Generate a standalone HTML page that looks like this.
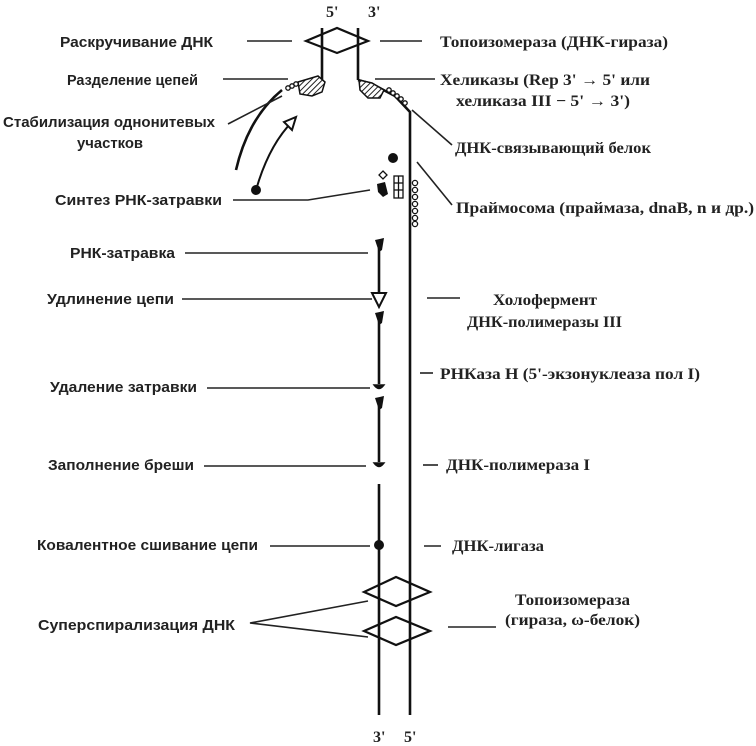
<!DOCTYPE html>
<html><head><meta charset="utf-8"><style>
html,body{margin:0;padding:0;background:#fff;}
svg{display:block;}
.s{font-family:"Liberation Sans",sans-serif;font-size:15px;font-weight:bold;fill:#222;}
.r{font-family:"Liberation Serif",serif;font-size:16px;font-weight:bold;fill:#222;}
</style></head><body>
<svg width="756" height="746" viewBox="0 0 756 746" xmlns="http://www.w3.org/2000/svg">
<defs>
<pattern id="h" width="4" height="4" patternUnits="userSpaceOnUse" patternTransform="rotate(45)">
<rect width="4" height="4" fill="#fff"/><line x1="0" y1="0" x2="0" y2="4" stroke="#222" stroke-width="2"/></pattern>
</defs>
<g stroke="#111" stroke-width="2.6" fill="none">
<line x1="322" y1="28" x2="322" y2="80"/>
<line x1="358" y1="28" x2="358" y2="80"/>
<polygon points="306,41 337,28 368,41 337,53" stroke-width="2.2"/>
<polyline points="358,80 372,84 395,96 410,112 410,715"/>
<path d="M282,90 Q248,118 236,170"/>
<path d="M256,190 Q268,148 290,124" stroke-width="2"/>
<line x1="379" y1="248" x2="379" y2="292"/>
<line x1="379" y1="315" x2="379" y2="384"/>
<line x1="379" y1="400" x2="379" y2="462"/>
<line x1="379" y1="484" x2="379" y2="715"/>
<polygon points="364,592 396,577 430,592 396,606" stroke-width="2.2"/>
<polygon points="364,631 396,617 430,631 396,645" stroke-width="2.2"/>
</g>
<polygon points="284,122 296,117 292,130" fill="#fff" stroke="#111" stroke-width="2"/>
<circle cx="256" cy="190" r="5" fill="#111"/>
<path d="M298,82 L318,76 L325,82 L322,92 L312,96 L300,94 Z" fill="url(#h)" stroke="#111" stroke-width="1.5"/>
<path d="M359,80 L372,83 L384,90 L380,98 L368,98 L360,90 Z" fill="url(#h)" stroke="#111" stroke-width="1.5"/>
<g fill="#fff" stroke="#111" stroke-width="1.3">
<circle cx="288" cy="88" r="2.2"/><circle cx="292" cy="86" r="2.2"/><circle cx="296" cy="84" r="2.2"/>
<circle cx="389" cy="90" r="2.2"/><circle cx="393" cy="93" r="2.2"/><circle cx="397" cy="96" r="2.2"/><circle cx="401" cy="99" r="2.2"/><circle cx="405" cy="103" r="2.2"/>
<circle cx="415" cy="183" r="2.6"/><circle cx="415" cy="190" r="2.6"/><circle cx="415" cy="197" r="2.6"/><circle cx="415" cy="204" r="2.6"/><circle cx="415" cy="211" r="2.6"/><circle cx="415" cy="218" r="2.6"/><circle cx="415" cy="224" r="2.6"/>
</g>
<circle cx="393" cy="158" r="5" fill="#111"/>
<polygon points="383,171 387,175 383,179 379,175" fill="#fff" stroke="#111" stroke-width="1.3"/>
<path d="M377,184 L385,182 L388,194 L383,197 L378,192 Z" fill="#111"/>
<g fill="#fff" stroke="#111" stroke-width="1.3">
<rect x="394" y="176" width="9" height="22"/>
<line x1="398.5" y1="176" x2="398.5" y2="198"/><line x1="394" y1="183" x2="403" y2="183"/><line x1="394" y1="190" x2="403" y2="190"/>
</g>
<path d="M375,240 L384,238 L382,250 L379,252 Z" fill="#111"/>
<polygon points="372,293 386,293 379,307" fill="#fff" stroke="#111" stroke-width="2"/>
<path d="M375,313 L384,311 L382,323 L379,325 Z" fill="#111"/>
<path d="M374,385 Q379,392 384,385 Z" fill="#111" stroke="#111" stroke-width="1.5"/>
<path d="M375,398 L384,396 L382,408 L379,410 Z" fill="#111"/>
<path d="M374,463 Q379,470 384,463 Z" fill="#111" stroke="#111" stroke-width="1.5"/>
<circle cx="379" cy="545" r="5" fill="#111"/>
<g stroke="#222" stroke-width="1.6" fill="none">
<line x1="247" y1="41" x2="292" y2="41"/>
<line x1="223" y1="79" x2="288" y2="79"/>
<line x1="228" y1="124" x2="282" y2="96"/>
<polyline points="233,200 308,200 370,190"/>
<line x1="185" y1="253" x2="368" y2="253"/>
<line x1="182" y1="299" x2="372" y2="299"/>
<line x1="207" y1="388" x2="370" y2="388"/>
<line x1="204" y1="466" x2="366" y2="466"/>
<line x1="270" y1="546" x2="370" y2="546"/>
<polyline points="368,601 250,623 368,637"/>
<line x1="380" y1="41" x2="422" y2="41"/>
<line x1="375" y1="79" x2="435" y2="79"/>
<line x1="412" y1="110" x2="452" y2="145"/>
<line x1="417" y1="162" x2="452" y2="205"/>
<line x1="427" y1="298" x2="460" y2="298"/>
<line x1="420" y1="373" x2="433" y2="373"/>
<line x1="423" y1="465" x2="438" y2="465"/>
<line x1="424" y1="546" x2="441" y2="546"/>
<line x1="448" y1="627" x2="496" y2="627"/>
</g>
<text class="s" x="60" y="47" textLength="153" lengthAdjust="spacingAndGlyphs">Раскручивание ДНК</text>
<text class="s" x="67" y="85" textLength="131" lengthAdjust="spacingAndGlyphs">Разделение цепей</text>
<text class="s" x="3" y="127" textLength="212" lengthAdjust="spacingAndGlyphs">Стабилизация однонитевых</text>
<text class="s" x="77" y="148" textLength="66" lengthAdjust="spacingAndGlyphs">участков</text>
<text class="s" x="55" y="205" textLength="167" lengthAdjust="spacingAndGlyphs">Синтез РНК-затравки</text>
<text class="s" x="70" y="258" textLength="105" lengthAdjust="spacingAndGlyphs">РНК-затравка</text>
<text class="s" x="47" y="304" textLength="127" lengthAdjust="spacingAndGlyphs">Удлинение цепи</text>
<text class="s" x="50" y="392" textLength="147" lengthAdjust="spacingAndGlyphs">Удаление затравки</text>
<text class="s" x="48" y="470" textLength="146" lengthAdjust="spacingAndGlyphs">Заполнение бреши</text>
<text class="s" x="37" y="550" textLength="221" lengthAdjust="spacingAndGlyphs">Ковалентное сшивание цепи</text>
<text class="s" x="38" y="630" textLength="197" lengthAdjust="spacingAndGlyphs">Суперспирализация ДНК</text>
<text class="r" x="440" y="47" textLength="228" lengthAdjust="spacingAndGlyphs">Топоизомераза  (ДНК-гираза)</text>
<text class="r" x="440" y="85" textLength="210" lengthAdjust="spacingAndGlyphs">Хеликазы (Rep 3' → 5' или</text>
<text class="r" x="456" y="106" textLength="174" lengthAdjust="spacingAndGlyphs">хеликаза III − 5' → 3')</text>
<text class="r" x="455" y="153" textLength="196" lengthAdjust="spacingAndGlyphs">ДНК-связывающий белок</text>
<text class="r" x="456" y="213" textLength="298" lengthAdjust="spacingAndGlyphs">Праймосома (праймаза, dnaB, n и др.)</text>
<text class="r" x="493" y="305" textLength="104" lengthAdjust="spacingAndGlyphs">Холофермент</text>
<text class="r" x="467" y="327" textLength="155" lengthAdjust="spacingAndGlyphs">ДНК-полимеразы III</text>
<text class="r" x="440" y="379" textLength="260" lengthAdjust="spacingAndGlyphs">РНКаза Н (5'-экзонуклеаза пол I)</text>
<text class="r" x="446" y="470" textLength="144" lengthAdjust="spacingAndGlyphs">ДНК-полимераза I</text>
<text class="r" x="452" y="551" textLength="92" lengthAdjust="spacingAndGlyphs">ДНК-лигаза</text>
<text class="r" x="515" y="605" textLength="115" lengthAdjust="spacingAndGlyphs">Топоизомераза</text>
<text class="r" x="505" y="625" textLength="135" lengthAdjust="spacingAndGlyphs">(гираза, ω-белок)</text>
<text class="r" x="326" y="17">5'</text>
<text class="r" x="368" y="17">3'</text>
<text class="r" x="373" y="742">3'</text>
<text class="r" x="404" y="742">5'</text>
</svg>
</body></html>
